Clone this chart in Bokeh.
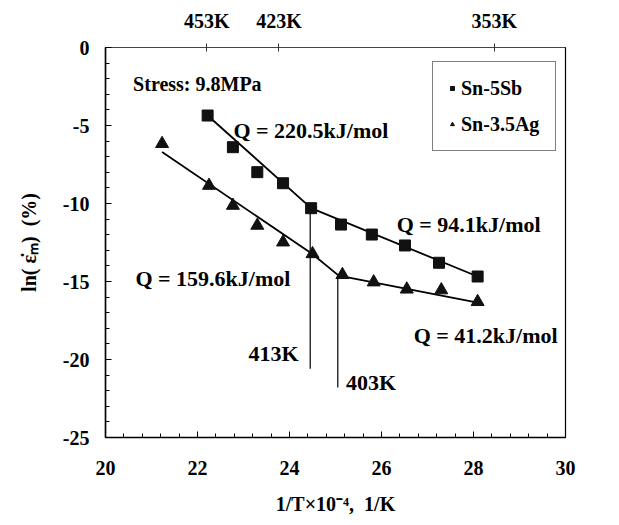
from bokeh.plotting import figure
from bokeh.models import (Range1d, LinearAxis, FixedTicker, SingleIntervalTicker,
                          CustomJSTickFormatter, Legend, LegendItem, ColumnDataSource)
from bokeh.core.properties import value
from bokeh.embed import file_html
from bokeh.resources import INLINE

# ---- data ----
sb_x = [22.22, 22.77, 23.30, 23.86, 24.47, 25.12, 25.79, 26.51, 27.25, 28.09]
sb_y = [-4.36, -6.39, -7.99, -8.70, -10.30, -11.35, -11.99, -12.69, -13.80, -14.68]
ag_x = [21.23, 22.25, 22.77, 23.30, 23.86, 24.50, 25.15, 25.83, 26.55, 27.30, 28.09]
ag_y = [-6.17, -8.85, -10.13, -11.41, -12.48, -13.23, -14.57, -15.04, -15.50, -15.55, -16.30]

sb_fit_x = [22.22, 24.47, 28.09]
sb_fit_y = [-4.36, -10.30, -14.68]
ag_fit_x = [21.23, 24.49, 25.07, 28.09]
ag_fit_y = [-6.70, -13.22, -14.62, -16.35]

vline_x = [24.45, 25.05]
vline_top = [-10.30, -14.60]
vline_bottom = [-20.6, -21.8]
vline_labels = ["413K", "403K"]

top_tick_pos = [22.2, 23.77, 28.45]
top_tick_labels = ["453K", "423K", "353K"]

q_labels = ["Q = 220.5kJ/mol", "Q = 94.1kJ/mol", "Q = 159.6kJ/mol", "Q = 41.2kJ/mol"]
q_x = [22.78, 26.33, 20.65, 26.7]
q_y = [-5.3, -11.35, -14.8, -18.46]

FONT = "Liberation Serif"

p = figure(frame_width=460, frame_height=390, output_backend="svg", toolbar_location=None,
           x_range=Range1d(20, 30), y_range=Range1d(-25, 0),
           min_border_left=105, min_border_right=45, min_border_top=47, min_border_bottom=80,
           background_fill_color="white", border_fill_color="white")
p.grid.visible = False
p.outline_line_color = "black"
p.outline_line_width = 1.2

plain = CustomJSTickFormatter(code="return String(tick);")

# axes
p.xaxis.ticker = SingleIntervalTicker(interval=2, num_minor_ticks=5)
p.yaxis.ticker = SingleIntervalTicker(interval=5, num_minor_ticks=5)
for ax in (p.xaxis[0], p.yaxis[0]):
    ax.formatter = plain
    ax.major_tick_in = 6
    ax.major_tick_out = 0
    ax.minor_tick_in = 4
    ax.minor_tick_out = 0
    ax.axis_line_width = 1.5
    ax.axis_line_color = "black"
    ax.major_tick_line_color = "black"
    ax.minor_tick_line_color = "black"
    ax.major_label_text_font = FONT
    ax.major_label_text_font_style = "bold"
    ax.major_label_text_font_size = "20px"
    ax.major_label_text_color = "black"
    ax.axis_label_text_font = FONT
    ax.axis_label_text_font_style = "bold"
    ax.axis_label_text_font_size = "20px"
    ax.axis_label_text_color = "black"

p.xaxis.major_label_standoff = 23
p.xaxis.axis_label = "1/T×10⁻⁴,\u00a0\u00a01/K"
p.xaxis.axis_label_standoff = 15
p.yaxis.major_label_standoff = 16
p.yaxis.axis_label = "ln( ε̇ₘ)\u00a0\u00a0(%)"
p.yaxis.axis_label_standoff = 20

top = LinearAxis(ticker=FixedTicker(ticks=top_tick_pos),
                 formatter=CustomJSTickFormatter(args=dict(pos=top_tick_pos, lab=top_tick_labels),
                     code="const i = pos.findIndex(v => Math.abs(v - tick) < 1e-6); return i >= 0 ? lab[i] : '';"))
top.major_tick_in = 4
top.major_tick_out = 4
top.minor_tick_in = 0
top.minor_tick_out = 0
top.axis_line_color = "#444444"
top.major_tick_line_color = "#333333"
top.major_label_text_font = FONT
top.major_label_text_font_style = "bold"
top.major_label_text_font_size = "20px"
top.major_label_text_color = "black"
top.major_label_standoff = 12
p.add_layout(top, "above")

# fit lines
p.line(sb_fit_x, sb_fit_y, line_color="black", line_width=1.8)
p.line(ag_fit_x, ag_fit_y, line_color="black", line_width=1.8)

# vertical lines
p.segment(x0=vline_x, y0=vline_top, x1=vline_x, y1=vline_bottom, line_color="black", line_width=1.2)

# markers
r_sb = p.scatter(sb_x, sb_y, marker="square", size=11, fill_color="#111111", line_color="#111111")
r_ag = p.scatter(ag_x, ag_y, marker="triangle", size=13, fill_color="#111111", line_color="#111111")

# annotation texts
tsrc = ColumnDataSource(dict(x=q_x, y=q_y, t=q_labels))
p.text("x", "y", text="t", source=tsrc, text_font=value(FONT), text_font_style="bold",
       text_font_size="22px", text_baseline="middle", text_align="left", text_color="black")

p.text(x=[20.6], y=[-2.37], text=["Stress: 9.8MPa"], text_font=value(FONT), text_font_style="bold",
       text_font_size="20px", text_baseline="middle", text_align="left", text_color="black")

p.text(x=[vline_x[0] - 0.25], y=[-19.6], text=[vline_labels[0]], text_font=value(FONT),
       text_font_style="bold", text_font_size="22px", text_baseline="middle", text_align="right",
       text_color="black")
p.text(x=[vline_x[1] + 0.18], y=[-21.5], text=[vline_labels[1]], text_font=value(FONT),
       text_font_style="bold", text_font_size="22px", text_baseline="middle", text_align="left",
       text_color="black")

legend = Legend(items=[LegendItem(label="Sn-5Sb", renderers=[r_sb]),
                       LegendItem(label="Sn-3.5Ag", renderers=[r_ag])],
                location=(327, 286))
legend.label_text_font = FONT
legend.label_text_font_style = "bold"
legend.label_text_font_size = "20px"
legend.label_text_color = "black"
legend.border_line_color = "black"
legend.border_line_width = 1
legend.background_fill_alpha = 1
legend.glyph_width = 10
legend.glyph_height = 24
legend.label_height = 24
legend.spacing = 12
legend.padding = 14
legend.label_standoff = 4
legend.label_width = 80
legend.margin = 0
p.add_layout(legend, "center")

open("out.html", "w").write(file_html(p, INLINE))
